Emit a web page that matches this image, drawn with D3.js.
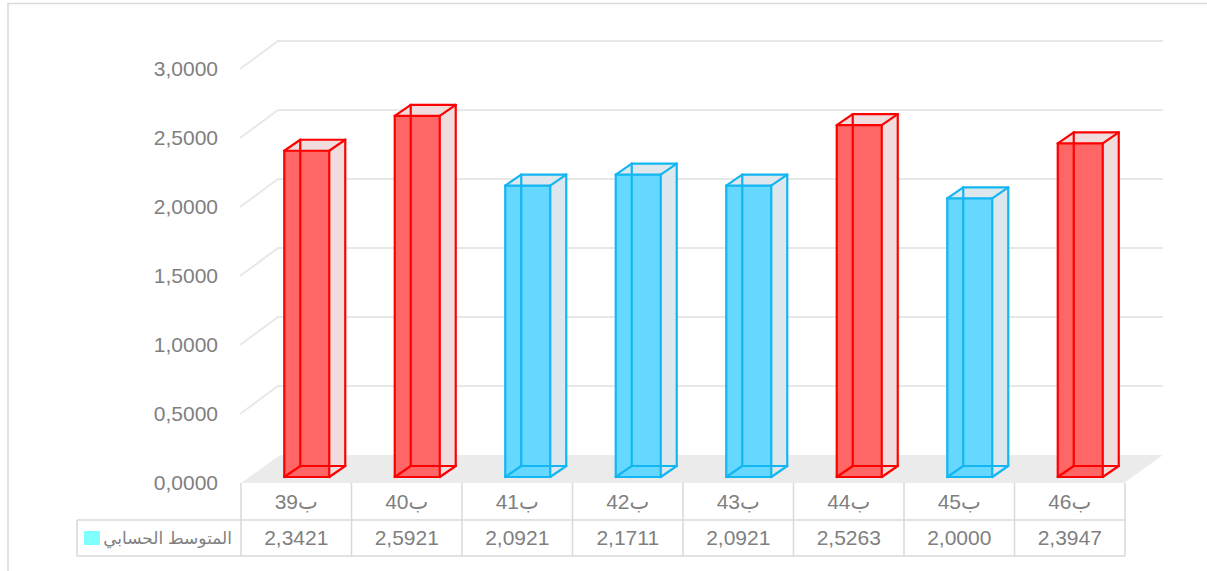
<!DOCTYPE html>
<html><head><meta charset="utf-8">
<script src="https://cdn.jsdelivr.net/npm/d3@7"></script>
<style>body{margin:0;background:#fff}svg{display:block}text{font-family:"Liberation Sans","DejaVu Sans",Arial,sans-serif}</style>
</head><body>
<div id="chart"></div>
<script>
const categories = ["ب39","ب40","ب41","ب42","ب43","ب44","ب45","ب46"];
const values = [2.3421, 2.5921, 2.0921, 2.1711, 2.0921, 2.5263, 2.0000, 2.3947];
const groups = ["red","red","blue","blue","blue","red","blue","red"];
const ticks = [0, 0.5, 1.0, 1.5, 2.0, 2.5, 3.0];
const seriesName = "المتوسط الحسابي";

const W = 1207, H = 571;
const svg = d3.select("#chart").append("svg").attr("width", W).attr("height", H);

// chart border
svg.append("rect").attr("x", 8).attr("y", 3.5).attr("width", W + 10).attr("height", H + 10)
  .attr("fill", "none").attr("stroke", "#d9d9d9").attr("stroke-width", 1.5);

const x = d3.scaleBand().domain(categories).range([241, 1125]);
const y = d3.scaleLinear().domain([0, 3]).range([483, 69]);
const DX = 38, DY = 28; // floor depth
const fmt = v => d3.format(".4f")(v).replace(".", ",");

const palette = {
  red:  {stroke: "#ff0000", front: "#ff6666", side: "#f0dcdc"},
  blue: {stroke: "#12b6f2", front: "#66d8ff", side: "#dde7ee"}
};

// wall gridlines
ticks.forEach(t => {
  if (t === 0) return;
  const yy = y(t);
  svg.append("polyline")
    .attr("points", `${240},${yy} ${240 + DX},${yy - DY} ${1163},${yy - DY}`)
    .attr("fill", "none").attr("stroke", "#e8e8e8").attr("stroke-width", 2);
});

// floor
svg.append("polygon")
  .attr("points", `241,483 1124,483 1163,455 280,455`)
  .attr("fill", "#ebebeb");

// tick labels
svg.append("g").selectAll("text").data(ticks).join("text")
  .attr("x", 218).attr("y", d => y(d)).attr("dy", "0.35em")
  .attr("text-anchor", "end").attr("font-size", 21).attr("fill", "#7f7f7f")
  .text(d => fmt(d));

// bars (front face projected slightly in front of the wall scale)
const bw = 45, bdx = 16, bdy = 11;
const yBar = d3.scaleLinear().domain([0, 1]).range([477, 477 - 139.3]);
const barG = svg.append("g");
categories.forEach((c, i) => {
  const p = palette[groups[i]];
  const x0 = x(c) + x.bandwidth() / 2 + 10.5 - bw / 2, x1 = x0 + bw;
  const yb = yBar(0), yt = yBar(values[i]);
  const g = barG.append("g");
  g.append("polygon").attr("points", `${x1},${yb} ${x1 + bdx},${yb - bdy} ${x1 + bdx},${yt - bdy} ${x1},${yt}`)
    .attr("fill", p.side);
  g.append("polygon").attr("points", `${x0},${yt} ${x1},${yt} ${x1 + bdx},${yt - bdy} ${x0 + bdx},${yt - bdy}`)
    .attr("fill", p.side);
  g.append("rect").attr("x", x0).attr("y", yt).attr("width", bw).attr("height", yb - yt)
    .attr("fill", p.front);
  const edges = [
    [x0, yb, x1, yb], [x0, yt, x1, yt], [x0, yb, x0, yt], [x1, yb, x1, yt],
    [x0 + bdx, yb - bdy, x1 + bdx, yb - bdy], [x0 + bdx, yt - bdy, x1 + bdx, yt - bdy],
    [x0 + bdx, yb - bdy, x0 + bdx, yt - bdy], [x1 + bdx, yb - bdy, x1 + bdx, yt - bdy],
    [x0, yb, x0 + bdx, yb - bdy], [x1, yb, x1 + bdx, yb - bdy],
    [x0, yt, x0 + bdx, yt - bdy], [x1, yt, x1 + bdx, yt - bdy]
  ];
  edges.forEach(e => g.append("line").attr("x1", e[0]).attr("y1", e[1]).attr("x2", e[2]).attr("y2", e[3])
    .attr("stroke", p.stroke).attr("stroke-width", 2.2).attr("stroke-linecap", "round"));
});

// data table
const tg = svg.append("g");
const lc = "#d9d9d9";
const bounds = categories.map(c => x(c)).concat([1125]);
bounds.forEach(bx => tg.append("line").attr("x1", bx).attr("x2", bx).attr("y1", 483).attr("y2", 556)
  .attr("stroke", lc).attr("stroke-width", 1.5));
tg.append("line").attr("x1", 77).attr("x2", 77).attr("y1", 520).attr("y2", 556).attr("stroke", lc).attr("stroke-width", 1.5);
[520, 556].forEach(yy => tg.append("line").attr("x1", 77).attr("x2", 1125).attr("y1", yy).attr("y2", yy)
  .attr("stroke", lc).attr("stroke-width", 1.5));

tg.selectAll("text.cat").data(categories).join("text").attr("class", "cat")
  .attr("x", d => x(d) + x.bandwidth() / 2).attr("y", 502).attr("dy", "0.35em")
  .attr("text-anchor", "middle").attr("font-size", 21).attr("fill", "#7f7f7f").text(d => d);
tg.selectAll("text.val").data(values).join("text").attr("class", "val")
  .attr("x", (d, i) => x(categories[i]) + x.bandwidth() / 2).attr("y", 538).attr("dy", "0.35em")
  .attr("text-anchor", "middle").attr("font-size", 21).attr("fill", "#7f7f7f").text(d => fmt(d));

// legend key
tg.append("rect").attr("x", 84).attr("y", 531).attr("width", 16).attr("height", 14).attr("fill", "#80ffff");
tg.append("text").attr("x", 232).attr("y", 538).attr("dy", "0.35em").attr("text-anchor", "end")
  .attr("font-size", 17).attr("fill", "#7f7f7f").text(seriesName);
</script>
</body></html>
